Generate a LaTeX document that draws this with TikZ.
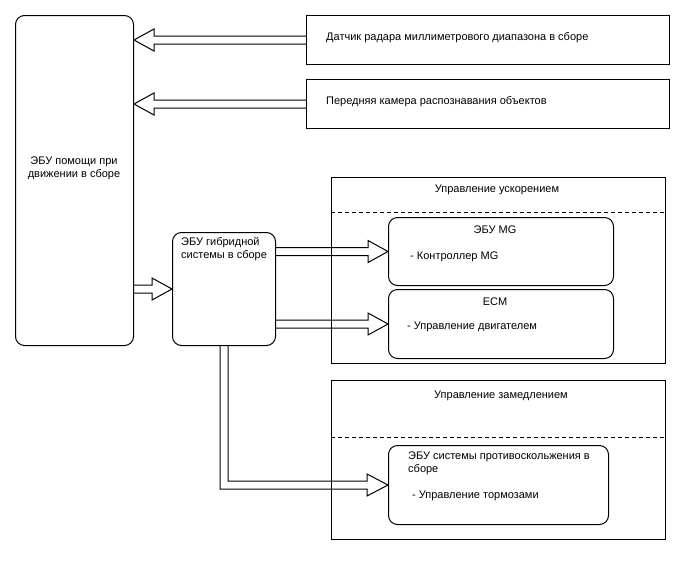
\documentclass[tikz,border=0pt]{standalone}
\usepackage{fontspec}
\setmainfont{Liberation Sans}
\usetikzlibrary{calc}
\tikzset{
  box/.style={draw, line width=1pt, inner sep=0pt, anchor=north west},
  rbox/.style={box, rounded corners=9pt},
  txt/.style={inner sep=0pt, font=\fontsize{11}{13}\selectfont},
  flex/.style={draw, line width=1pt, line join=miter},
  sep/.style={draw, line width=0.6pt, dash pattern=on 4pt off 3pt}
}
\newcommand\flexH[2]{%
  \draw[flex] let \p1=(#1), \p2=(#2), \n1={sign(\x2-\x1)} in
    (\x1,\y1+4pt) -- (\x2-\n1*20pt,\y2+4pt) -- (\x2-\n1*20pt,\y2+11pt) -- (\x2,\y2)
    -- (\x2-\n1*20pt,\y2-11pt) -- (\x2-\n1*20pt,\y2-4pt) -- (\x1,\y1-4pt);}
\begin{document}
\begin{tikzpicture}[x=1pt,y=-1pt]
\useasboundingbox (0,0) rectangle (688,560);
% main nodes
\node[rbox, minimum width=118pt, minimum height=330pt] (ecu) at (15,15) {};
\node[txt, align=center] (ecut) at (74,168.5) {ЭБУ помощи при\\движении в сборе};
\node[box, minimum width=363pt, minimum height=49pt] (radar) at (306,15) {};
\node[txt, anchor=west] (radart) at (326,38) {Датчик радара миллиметрового диапазона в сборе};
\node[box, minimum width=363pt, minimum height=49pt] (cam) at (306,79) {};
\node[txt, anchor=west] (camt) at (326,102) {Передняя камера распознавания объектов};
\node[rbox, minimum width=103pt, minimum height=113pt] (hyb) at (172,232) {};
\node[txt, align=left, anchor=north west] (hybt) at (181,237.5) {ЭБУ гибридной\\системы в сборе};
% acceleration container
\node[box, minimum width=334pt, minimum height=186pt] (acc) at (331,177) {};
\node[txt] (acct) at (497,189.5) {Управление ускорением};
\draw[sep] (acc.west |- 0,212) coordinate (accl) -- (acc.east |- accl);
\node[rbox, minimum width=225pt, minimum height=68pt] (mg) at (388,217) {};
\node[txt] (mgt) at (495,230) {ЭБУ MG};
\node[txt, anchor=west] (mgd) at (410,257) {- Контроллер MG};
\node[rbox, minimum width=225pt, minimum height=69pt] (ecm) at (388,289) {};
\node[txt] (ecmt) at (495,302) {ECM};
\node[txt, anchor=west] (ecmd) at (407,327) {- Управление двигателем};
% deceleration container
\node[box, minimum width=334pt, minimum height=159pt] (dec) at (331,380) {};
\node[txt] (dect) at (501,395.5) {Управление замедлением};
\draw[sep] (dec.west |- 0,437) coordinate (decl) -- (dec.east |- decl);
\node[rbox, minimum width=220pt, minimum height=79pt] (skid) at (388,445) {};
\node[txt, align=left, anchor=north west] (skidt) at (408,452) {ЭБУ системы противоскольжения в\\сборе};
\node[txt, anchor=west] (skidd) at (412,496) {- Управление тормозами};
% arrows
\flexH{radar.west}{ecu.east |- radar.west}
\flexH{cam.west}{ecu.east |- cam.west}
\flexH{ecu.east |- hyb.west}{hyb.west}
\flexH{hyb.east |- mg.west}{mg.west}
\flexH{hyb.east |- ecm.west}{ecm.west}
\draw[flex] let \p1=(hyb.south), \p2=(skid.west) in
  (\x1-4pt,\y1) -- (\x1-4pt,\y2-4pt) -- (\x2-21pt,\y2-4pt) -- (\x2-21pt,\y2-11pt) -- (\x2,\y2)
  -- (\x2-21pt,\y2+11pt) -- (\x2-21pt,\y2+4pt) -- (\x1+4pt,\y2+4pt) -- (\x1+4pt,\y1);
\end{tikzpicture}
\end{document}
